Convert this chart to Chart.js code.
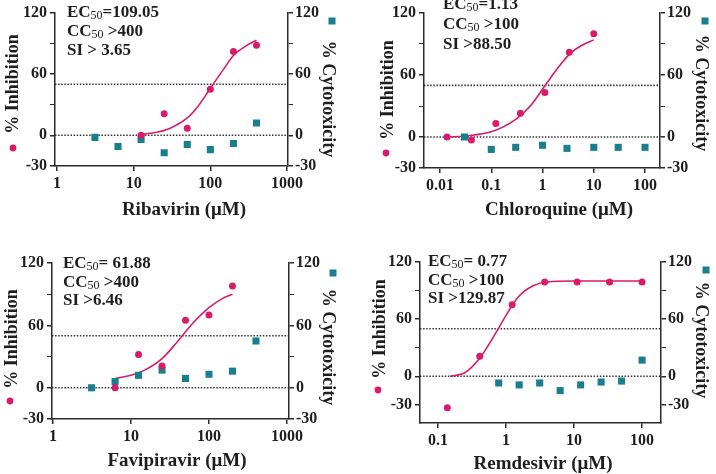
<!DOCTYPE html>
<html>
<head>
<meta charset="utf-8">
<script src="https://cdn.jsdelivr.net/npm/chart.js@4.4.0/dist/chart.umd.min.js"></script>
<style>
  body { margin: 0; background: #fff; }
  #wrap { position: relative; width: 716px; height: 474px; }
  canvas { position: absolute; }
</style>
</head>
<body>
<div id="wrap">
  <canvas id="c1" width="358" height="237" style="left:0;top:0"></canvas>
  <canvas id="c2" width="358" height="237" style="left:358px;top:0"></canvas>
  <canvas id="c3" width="358" height="237" style="left:0;top:237px"></canvas>
  <canvas id="c4" width="358" height="237" style="left:358px;top:237px"></canvas>
</div>
<script>
// --- datos ---
const yTicks = [-30, 0, 60, 120];
const yMinorTicks = [30, 90];
const refLevels = [0, 50];

// Ribavirin
const ribaXTicks = [1, 10, 100, 1000];
const ribaInhX = [12.5, 25, 50, 100, 200, 400];
const ribaInhY = [0, 21, 7, 45, 82, 88];
const ribaCytX = [3.125, 6.25, 12.5, 25, 50, 100, 200, 400];
const ribaCytY = [-2, -11, -4, -17, -9, -14, -8, 12];
const ribaFitX = [12.5, 20, 30, 50, 70, 100, 150, 200, 300, 400];
const ribaFitY = [1, 3, 7, 17, 29, 46, 65, 78, 88, 93];

// Chloroquine
const chlXTicks = [0.01, 0.1, 1, 10, 100];
const chlInhX = [0.0137, 0.041, 0.123, 0.37, 1.11, 3.33, 10];
const chlInhY = [0, -3, 13, 23, 43, 82, 100];
const chlCytX = [0.03, 0.1, 0.3, 1, 3, 10, 30, 100];
const chlCytY = [0, -12, -10, -8, -11, -10, -10, -10];
const chlFitX = [0.0137, 0.03, 0.1, 0.3, 0.6, 1.13, 2, 3.33, 6, 10];
const chlFitY = [0, 1, 5, 17, 31, 50, 67, 80, 89, 94];

// Favipiravir
const favXTicks = [1, 10, 100, 1000];
const favInhX = [6.25, 12.5, 25, 50, 100, 200];
const favInhY = [0, 32, 21, 65, 70, 98];
const favCytX = [3.125, 6.25, 12.5, 25, 50, 100, 200, 400];
const favCytY = [0, 6, 12, 17, 9, 13, 16, 45];
const favFitX = [6.25, 10, 15, 25, 40, 62, 100, 150, 200];
const favFitY = [9, 12, 17, 28, 45, 62, 77, 86, 90];

// Remdesivir
const remXTicks = [0.1, 1, 10, 100];
const remInhX = [0.137, 0.41, 1.23, 3.7, 11.1, 33.3, 100];
const remInhY = [-33, 21, 75, 99, 99, 99, 99];
const remCytX = [0.78, 1.56, 3.125, 6.25, 12.5, 25, 50, 100];
const remCytY = [-7, -9, -7, -15, -9, -6, -5, 17];
const remFitX = [0.15, 0.25, 0.41, 0.6, 0.8, 1, 1.5, 2.5, 4, 10, 100];
const remFitY = [0, 4, 19, 37, 52, 64, 83, 95, 99, 100, 100];

// --- estilos ---
const PINK = "#d81b6a";
const TEAL = "#1a7f8c";
const AXIS = "#2a2a2a";
const TXT = "#1e1e1e";
const FAM = "'Liberation Serif', 'Times New Roman', serif";

// posiciones de cada panel (coordenadas locales del canvas)
const panels = [
  {
    id: "c1", left: 55, right: 288, top: 11, bottom: 166,
    xMin: 0.942, xMax: 1030, yMin: -30, yMax: 120, xTicks: ribaXTicks,
    inhX: ribaInhX, inhY: ribaInhY, cytX: ribaCytX, cytY: ribaCytY, fitX: ribaFitX, fitY: ribaFitY,
    xTitle: "Ribavirin (μM)", xTitlePos: [184, 210],
    inhTitle: [13, 84], inhMark: [13, 148], cytTitle: [328, 99], cytMark: [332, 21],
    notePos: [67, 13], noteGap: 19,
    notes: [["EC", "50", "=109.05"], ["CC", "50", " >400"], ["SI > 3.65", "", ""]],
  },
  {
    id: "c2", left: 66, right: 302, top: 13, bottom: 168,
    xMin: 0.00487, xMax: 196, yMin: -30, yMax: 120, xTicks: chlXTicks,
    inhX: chlInhX, inhY: chlInhY, cytX: chlCytX, cytY: chlCytY, fitX: chlFitX, fitY: chlFitY,
    xTitle: "Chloroquine (μM)", xTitlePos: [201, 210],
    inhTitle: [30, 90], inhMark: [28, 153], cytTitle: [343, 93], cytMark: [347, 21],
    notePos: [85, 5], noteGap: 20,
    notes: [["EC", "50", "=1.13"], ["CC", "50", " >100"], ["SI >88.50", "", ""]],
  },
  {
    id: "c3", left: 52, right: 289, top: 26, bottom: 182,
    xMin: 0.971, xMax: 1061, yMin: -30, yMax: 120, xTicks: favXTicks,
    inhX: favInhX, inhY: favInhY, cytX: favCytX, cytY: favCytY, fitX: favFitX, fitY: favFitY,
    xTitle: "Favipiravir (μM)", xTitlePos: [177, 224],
    inhTitle: [12, 102], inhMark: [10, 164], cytTitle: [328, 110], cytMark: [333, 36],
    notePos: [63, 27], noteGap: 18.5,
    notes: [["EC", "50", "= 61.88"], ["CC", "50", " >400"], ["SI >6.46", "", ""]],
  },
  {
    id: "c4", left: 62, right: 303, top: 25, bottom: 186,
    xMin: 0.0543, xMax: 190, yMin: -49, yMax: 120, xTicks: remXTicks,
    inhX: remInhX, inhY: remInhY, cytX: remCytX, cytY: remCytY, fitX: remFitX, fitY: remFitY,
    xTitle: "Remdesivir (μM)", xTitlePos: [185, 227],
    inhTitle: [22, 92], inhMark: [20, 153], cytTitle: [343, 103], cytMark: [348, 33],
    notePos: [70, 25], noteGap: 18.5,
    notes: [["EC", "50", "= 0.77"], ["CC", "50", " >100"], ["SI >129.87", "", ""]],
  },
];

function toPts(xs, ys) {
  return xs.map((x, i) => ({ x: x, y: ys[i] }));
}

// plugin para textos: notas, titulos de ejes y marcadores de leyenda
function textPlugin(p) {
  return {
    id: "textos",
    afterDraw(chart) {
      const ctx = chart.ctx;
      ctx.save();
      ctx.fillStyle = TXT;
      ctx.textBaseline = "middle";

      // notas EC50 / CC50 / SI
      p.notes.forEach((ln, i) => {
        let cx = p.notePos[0];
        const cy = p.notePos[1] + i * p.noteGap;
        ctx.textAlign = "left";
        ctx.font = "bold 17px " + FAM;
        ctx.fillText(ln[0], cx, cy);
        cx += ctx.measureText(ln[0]).width;
        if (ln[1]) {
          ctx.font = "12px " + FAM;
          ctx.fillText(ln[1], cx, cy + 3);
          cx += ctx.measureText(ln[1]).width;
          ctx.font = "bold 17px " + FAM;
        }
        if (ln[2]) ctx.fillText(ln[2], cx, cy);
      });

      // titulo eje x
      ctx.font = "bold 19px " + FAM;
      ctx.textAlign = "center";
      ctx.fillText(p.xTitle, p.xTitlePos[0], p.xTitlePos[1]);

      // titulo eje izquierdo
      ctx.font = "bold 18px " + FAM;
      ctx.save();
      ctx.translate(p.inhTitle[0], p.inhTitle[1]);
      ctx.rotate(-Math.PI / 2);
      ctx.fillText("% Inhibition", 0, 0);
      ctx.restore();

      // titulo eje derecho
      ctx.save();
      ctx.translate(p.cytTitle[0], p.cytTitle[1]);
      ctx.rotate(Math.PI / 2);
      ctx.fillText("% Cytotoxicity", 0, 0);
      ctx.restore();

      // marcadores
      ctx.fillStyle = PINK;
      ctx.beginPath();
      ctx.arc(p.inhMark[0], p.inhMark[1], 3.4, 0, Math.PI * 2);
      ctx.fill();
      ctx.fillStyle = TEAL;
      ctx.fillRect(p.cytMark[0] - 3.5, p.cytMark[1] - 3.5, 7, 7);
      ctx.restore();
    },
  };
}

function yScale(p, position) {
  return {
    type: "linear",
    position: position,
    min: p.yMin,
    max: p.yMax,
    afterBuildTicks: (s) => {
      s.ticks = yTicks.concat(yMinorTicks).sort((a, b) => a - b).map((v) => ({ value: v }));
    },
    afterFit: (s) => { s.width = position === "left" ? 45 : 40; },
    ticks: {
      callback: (v) => (yTicks.includes(v) ? String(v) : ""),
      font: { family: FAM, size: 16, weight: "bold" },
      color: TXT,
      padding: position === "left" ? 3 : 2,
      autoSkip: false,
    },
    grid: {
      drawOnChartArea: false,
      tickLength: 5,
      color: AXIS,
      lineWidth: (c) => (c.tick && yMinorTicks.includes(c.tick.value) ? 1 : 1.5),
    },
    border: { display: true, color: AXIS, width: 1.5 },
  };
}

function makeChart(p) {
  const ctx = document.getElementById(p.id);
  const datasets = [
    {
      data: toPts(p.inhX, p.inhY),
      pointStyle: "circle",
      pointRadius: 3.5,
      pointBorderWidth: 0,
      backgroundColor: PINK,
      borderColor: PINK,
      yAxisID: "y",
    },
    {
      data: toPts(p.cytX, p.cytY),
      pointStyle: "rect",
      pointRadius: 5,
      pointBorderWidth: 0,
      backgroundColor: TEAL,
      borderColor: TEAL,
      yAxisID: "y1",
    },
    {
      type: "line",
      data: toPts(p.fitX, p.fitY),
      borderColor: PINK,
      borderWidth: 1.6,
      pointRadius: 0,
      cubicInterpolationMode: "monotone",
      fill: false,
      yAxisID: "y",
    },
  ];
  // lineas punteadas de referencia (0 y 50)
  refLevels.forEach((v) => {
    datasets.push({
      type: "line",
      data: [{ x: p.xMin, y: v }, { x: p.xMax, y: v }],
      borderColor: "#333",
      borderWidth: 1.6,
      borderDash: [1.5, 1.6],
      pointRadius: 0,
      fill: false,
      yAxisID: "y",
    });
  });

  return new Chart(ctx, {
    type: "scatter",
    data: { datasets: datasets },
    options: {
      responsive: false,
      animation: false,
      layout: {
        padding: { left: p.left - 45, right: 358 - p.right - 40, top: p.top, bottom: 237 - p.bottom - 30 },
      },
      plugins: { legend: { display: false }, tooltip: { enabled: false } },
      scales: {
        x: {
          type: "logarithmic",
          min: p.xMin,
          max: p.xMax,
          afterBuildTicks: (s) => { s.ticks = p.xTicks.map((v) => ({ value: v })); },
          afterFit: (s) => { s.height = 30; },
          ticks: {
            callback: (v) => String(v),
            font: { family: FAM, size: 16, weight: "bold" },
            color: TXT,
            padding: 3,
            maxRotation: 0,
            autoSkip: false,
          },
          grid: { drawOnChartArea: false, tickLength: 5, color: AXIS, lineWidth: 1.5 },
          border: { display: true, color: AXIS, width: 1.5 },
        },
        y: yScale(p, "left"),
        y1: yScale(p, "right"),
      },
    },
    plugins: [textPlugin(p)],
  });
}

panels.forEach(makeChart);
</script>
</body>
</html>
